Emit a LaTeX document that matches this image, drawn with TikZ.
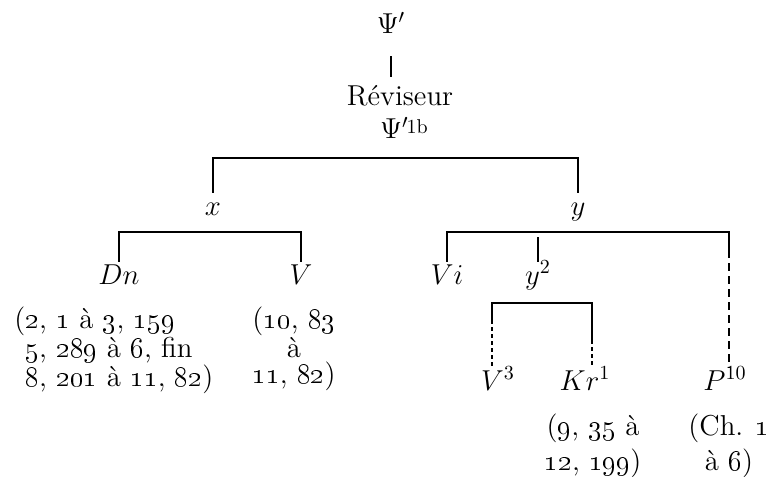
\documentclass[tikz,border=0pt]{standalone}
\usetikzlibrary{positioning}
\newcommand{\osn}[1]{\oldstylenums{#1}}

\begin{document}
\begin{tikzpicture}[%
        x=0.5pt, y=-0.5pt,
        every node/.style={inner sep=1pt, align=center, font=\fontsize{14.4}{13}\selectfont},
        sigla/.style={anchor=base, text height=10pt, text depth=3pt},
        note/.style={anchor=north},
        widenote/.style={anchor=north, font=\fontsize{14.4}{17.5}\selectfont},
        bar/.style={draw, line width=0.7pt},
        gap/.style={draw, line width=0.7pt, dash pattern=on 4pt off 2.5pt},
        dots/.style={draw, line width=0.6pt, dash pattern=on 2pt off 1.5pt}
      ]
      \useasboundingbox (0,0) rectangle (770,476);
      \node [] (psi) at (391,34) [sigla] {$\Psi'$};
      \node [] (rev) at (400,105) [sigla] {Réviseur};
      \node [] (psirev) [sigla, anchor=north, below=1.5pt of rev, xshift=2pt]
        {$\Psi'$\kern-1pt\raisebox{2.5pt}{\fontsize{10}{10}\selectfont 1b}};
      \node [] (xx) at (213,215) [sigla] {$x$};
      \node [] (yy) at (578,215) [sigla] {$y$};
      \node [] (dn) at (119,284) [sigla] {$Dn$};
      \node [] (vv) at (301,284) [sigla] {$V$};
      \node [] (vi) at (447,284) [sigla] {$Vi$};
      \node [] (ysq) at (538,284) [sigla] {$y^2$};
      \node [] (vthree) at (498,390) [sigla] {$V^3$};
      \node [] (krone) at (585,390) [sigla] {$Kr^1$};
      \node [] (pten) at (725,390) [sigla] {$P^{10}$};
      % passages
      \node [] (dnnote) at (23,304) [anchor=north west, align=left]
        {\llap{(}\osn{2}, \osn{1} à \osn{3}, \osn{159}\\ \osn{5}, \osn{289} à \osn{6}, fin\\ \osn{8}, \osn{201} à \osn{11}, \osn{82})};
      \node [] (vnote) at (294,304) [note] {(\osn{10}, \osn{83}\\ à\\ \osn{11}, \osn{82})};
      \node [] (krnote) at (593,411) [widenote] {(\osn{9}, \osn{35} à\\ \osn{12}, \osn{199})};
      \node [] (pnote) at (729,411) [widenote] {(Ch. \osn{1}\\ à \osn{6})};
      % brackets
      \coordinate (b1) at (400,158);
      \coordinate (b2) at (210,232);
      \coordinate (b3) at (590,232);
      \coordinate (b4) at (543,303);
      \coordinate (pbend) at (729,250);
      \coordinate (vleg) at (492,320);
      \coordinate (kleg) at (592,340);
      \path [bar] ([yshift=-7pt]psi.south) -- ([yshift=3pt]psi.south |- rev.north);
      \path [bar] (xx.north) |- (b1) -| (yy.north);
      \path [bar] (dn.north) |- (b2) -| (vv.north);
      \path [bar] (vi.north) |- (b3) -| (pbend);
      \path [gap] (pbend) -- (pbend |- pten.north);
      \path [bar] ([yshift=-2.5pt]ysq.north |- b3) -- (ysq.north);
      \path [bar] (vleg) |- (b4) -| (kleg);
      \path [dots] (vleg) -- (vleg |- vthree.north);
      \path [dots] (kleg) -- (kleg |- krone.north);
    \end{tikzpicture}
\end{document}
